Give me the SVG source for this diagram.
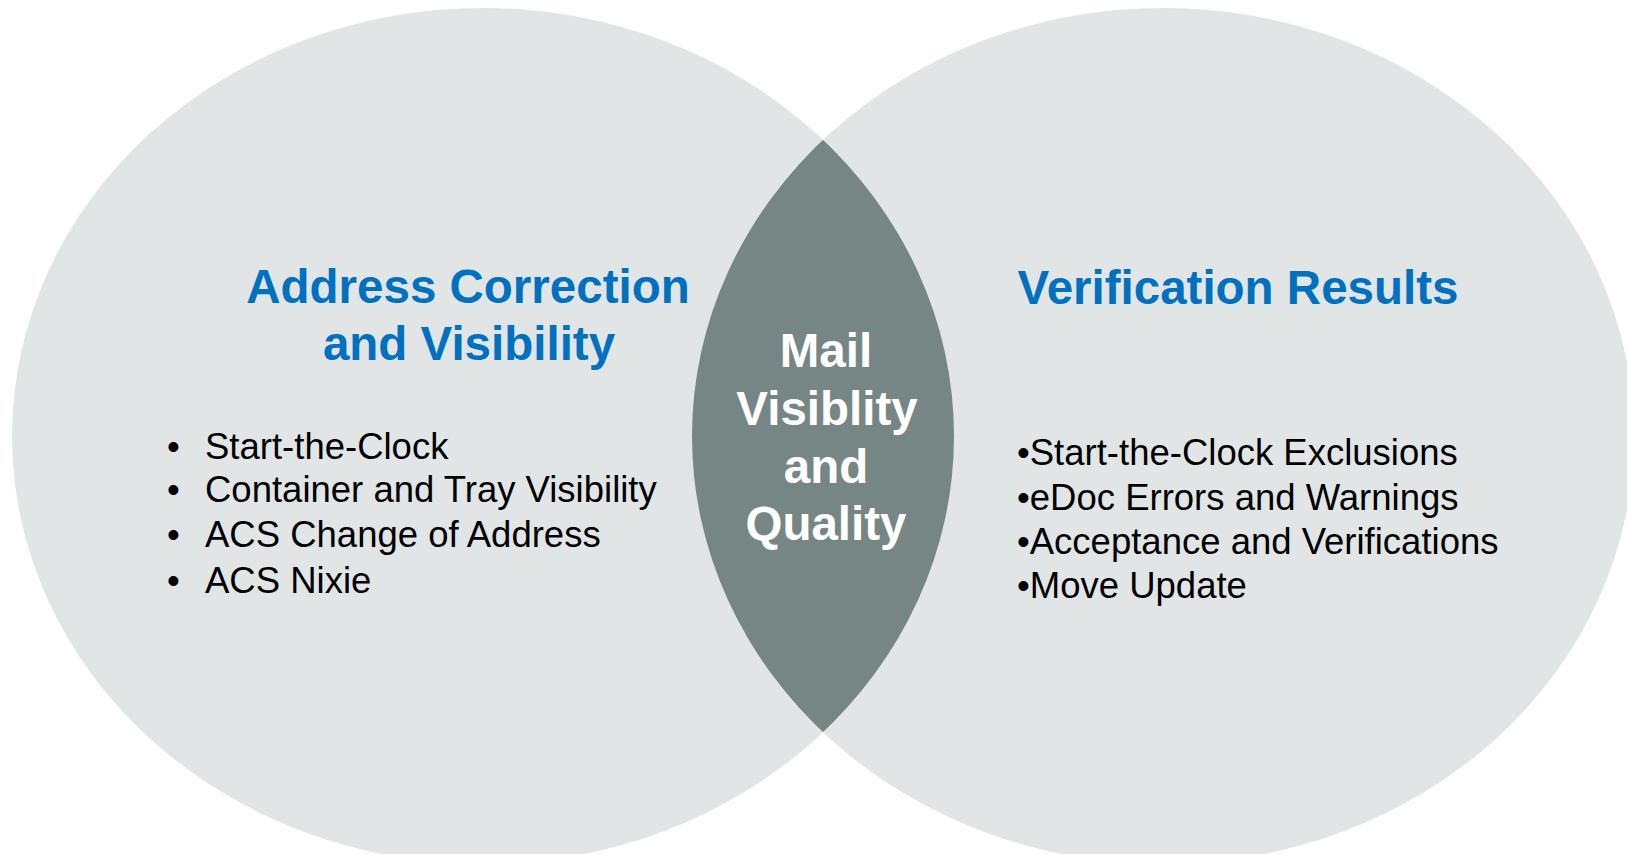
<svg xmlns="http://www.w3.org/2000/svg" width="1627" height="854" viewBox="0 0 1627 854">
<style>
.circle{fill:#E1E5E6}
.lens{fill:#768684}
.title{font-family:"Liberation Sans",Arial,sans-serif;font-weight:bold;font-size:47.5px;fill:#0070C0;text-anchor:middle}
.center{font-family:"Liberation Sans",Arial,sans-serif;font-weight:bold;font-size:47.5px;fill:#FFFFFF;text-anchor:middle}
.item{font-family:"Liberation Sans",Arial,sans-serif;font-size:36.5px;fill:#000000}
</style>
<defs>
<clipPath id="clipLeft"><ellipse cx="483" cy="436" rx="471" ry="428"/></clipPath>
</defs>
<rect width="1627" height="854" fill="#FFFFFF"/>
<g id="left-circle">
<ellipse class="circle" cx="483" cy="436" rx="471" ry="428"/>
<text class="title" x="468" y="303">Address Correction</text>
<text class="title" x="469" y="360">and Visibility</text>
<text class="item" x="167" y="459">•</text><text class="item" x="205" y="459">Start-the-Clock</text>
<text class="item" x="167" y="502">•</text><text class="item" x="205" y="502">Container and Tray Visibility</text>
<text class="item" x="167" y="547">•</text><text class="item" x="205" y="547">ACS Change of Address</text>
<text class="item" x="167" y="593">•</text><text class="item" x="205" y="593">ACS Nixie</text>
</g>
<g id="right-circle">
<ellipse class="circle" cx="1163" cy="436" rx="471" ry="428"/>
<text class="title" x="1238" y="304">Verification Results</text>
<text class="item" x="1017" y="465">•Start-the-Clock Exclusions</text>
<text class="item" x="1017" y="510">•eDoc Errors and Warnings</text>
<text class="item" x="1017" y="554">•Acceptance and Verifications</text>
<text class="item" x="1017" y="598">•Move Update</text>
</g>
<g id="intersection">
<ellipse class="lens" cx="1163" cy="436" rx="471" ry="428" clip-path="url(#clipLeft)"/>
<text class="center" x="826" y="367">Mail</text>
<text class="center" x="827" y="425">Visiblity</text>
<text class="center" x="826" y="483">and</text>
<text class="center" x="826" y="540">Quality</text>
</g>
<g id="connectors"/>
</svg>
